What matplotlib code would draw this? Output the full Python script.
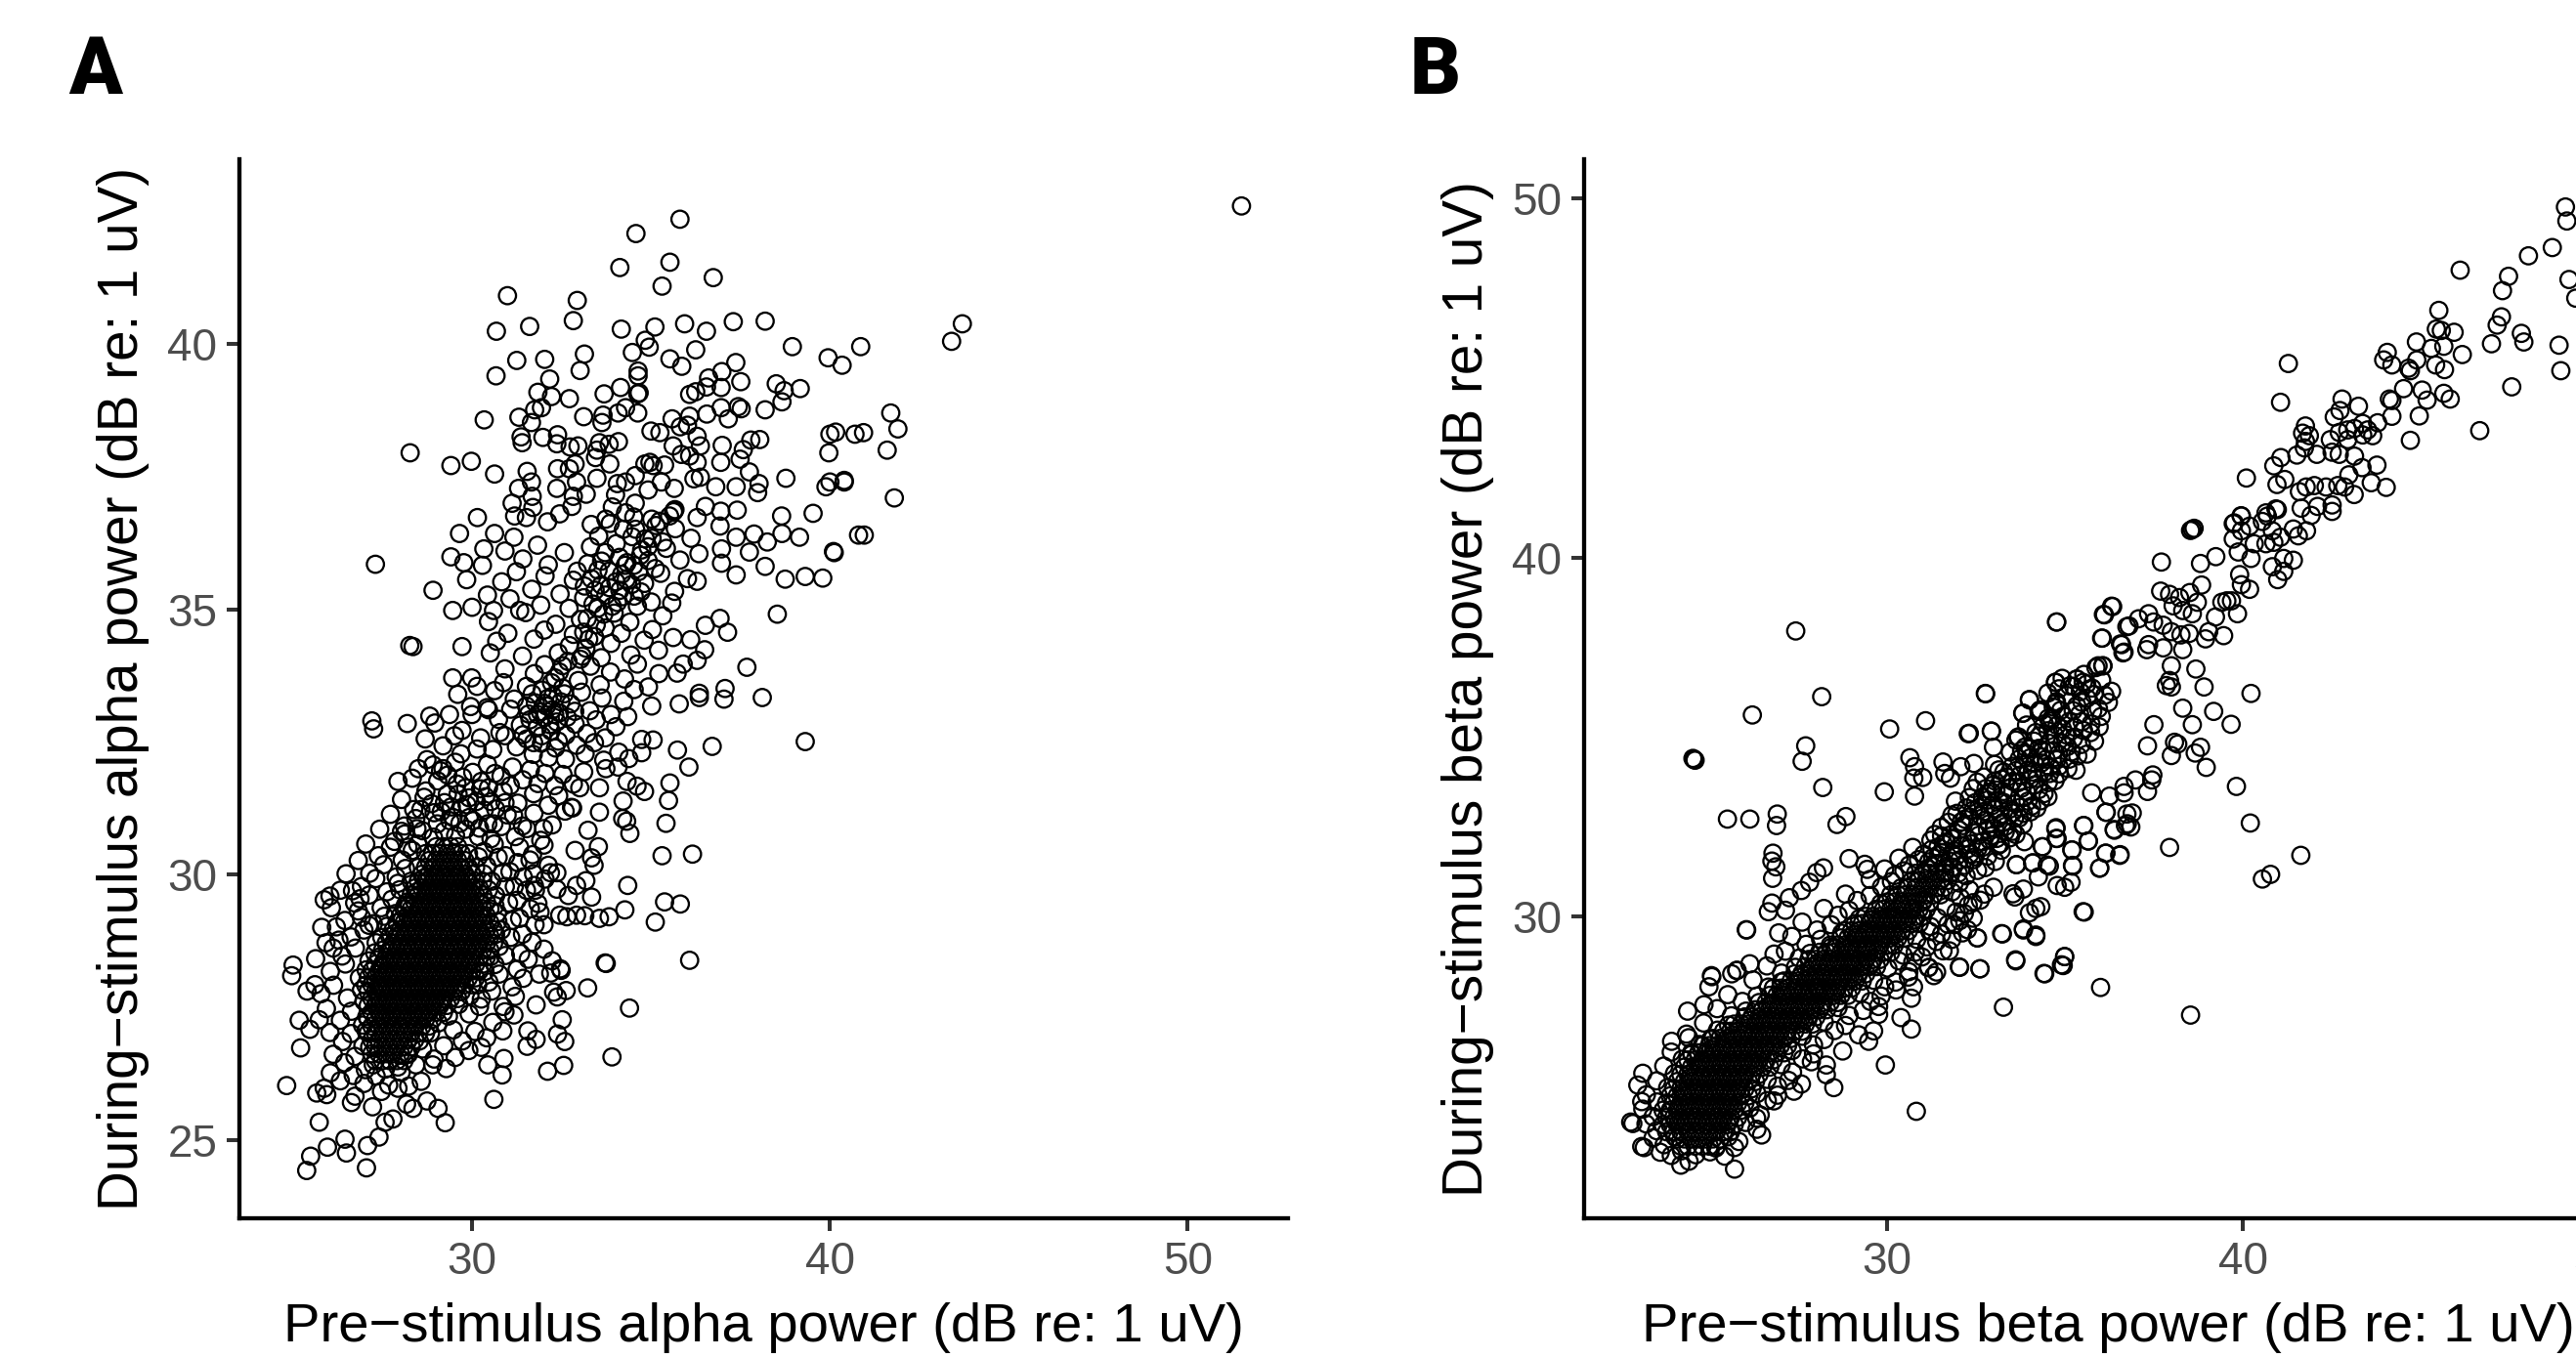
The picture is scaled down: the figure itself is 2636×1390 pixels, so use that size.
import numpy as np
import matplotlib
matplotlib.use("Agg")
import matplotlib.pyplot as plt

plt.rcParams['font.family'] = ['Liberation Sans', 'DejaVu Sans']

# values, (pre, during) in dB
alpha_sparse = [
    (51.5,42.6),(43.7,40.38),(43.4,40.05),(35.81,42.35),(34.58,42.08),(34.13,41.44),(35.53,41.54),(35.31,41.09),(36.74,41.25),
    (30.99,40.91),(32.94,40.82),(32.83,40.44),(30.68,40.24),(31.61,40.33),(34.17,40.28),(35.11,40.32),(35.94,40.38),(36.55,40.24),
    (37.30,40.42),(38.19,40.43),(38.95,39.95),(40.86,39.95),(39.95,39.74),(40.34,39.6),(34.84,40.07),(34.95,39.94),(34.48,39.84),
    (36.25,39.89),(35.53,39.72),(35.86,39.58),(33.14,39.81),(33.02,39.5),(32.03,39.71),(31.25,39.69),(30.67,39.4),(32.17,39.34),
    (31.84,39.09),(32.22,39.01),(32.72,38.97),(33.69,39.06),(34.15,39.18),(34.64,39.49),(34.64,39.4),(34.63,39.06),(34.67,39.08),
    (37.37,39.65),(36.98,39.48),(36.61,39.36),(37.51,39.29),(36.96,39.18),(36.55,39.19),(36.25,39.1),(36.08,39.05),(38.5,39.25),
    (38.72,39.12),(39.17,39.16),(38.66,38.91),(38.19,38.76),(30.34,38.57),(31.31,38.62),(31.66,38.52),(31.75,38.76),(31.94,38.8),
    (33.12,38.63),(33.66,38.66),(33.63,38.52),(34.08,38.7),(34.29,38.8),(34.63,38.7),(35.59,38.59),(36.08,38.64),(36.56,38.68),
    (36.96,38.8),(37.16,38.59),(37.44,38.82),(37.52,38.78),(28.27,37.95),(29.41,37.71),(29.98,37.79),(30.63,37.55),(31.37,38.25),
    (31.4,38.14),(31.98,38.24),(32.39,38.29),(32.37,38.12),(32.96,38.08),(32.74,38.06),(33.56,38.14),(33.83,38.11),(34.09,38.16),
    (33.49,38.0),(33.45,37.86),(33.85,37.74),(35.0,38.36),(35.25,38.33),(35.82,38.44),(36.02,38.47),(36.29,38.26),(35.62,38.08),
    (35.85,37.92),(36.38,38.08),(36.08,37.89),(36.29,37.77),(36.99,38.09),(37.79,38.19),(38.04,38.2),(37.58,38.01),(37.49,37.83),
    (36.95,37.77),(40.16,38.34),(40.94,38.33),(39.97,37.95),(38.77,37.47),(40.4,37.43),(39.89,37.31),(39.53,36.81),(38.65,36.76),
    (38.66,36.43),(39.15,36.36),(40.96,36.4),(40.1,36.09),(40.12,36.07),(31.54,37.6),(31.66,37.4),(31.3,37.28),(32.39,37.65),
    (32.88,37.74),(32.72,37.65),(32.92,37.4),(33.49,37.47),(32.37,37.28),(33.19,37.17),(32.83,37.13),(32.79,36.94),(31.12,37.0),
    (31.68,37.13),(31.7,36.92),(31.19,36.76),(31.52,36.73),(32.45,36.8),(32.11,36.65),(30.15,36.73),(29.65,36.43),(30.63,36.43),
    (31.17,36.36),(30.33,36.14),(30.92,36.1),(29.41,35.99),(29.77,35.88),(30.29,35.83),(29.85,35.56),(28.91,35.36),(34.97,37.77),
    (34.83,37.74),(35.06,37.71),(35.38,37.72),(34.29,37.4),(34.06,37.37),(34.01,37.16),(34.56,37.52),(34.92,37.25),(35.29,37.4),
    (35.65,37.28),(36.2,37.46),(36.38,37.49),(36.81,37.31),(37.38,37.31),(37.75,37.59),(38.02,37.37),(37.98,37.2),(37.41,36.87),
    (36.95,36.85),(36.52,36.94),(36.29,36.73),(36.93,36.57),(35.65,36.86),(35.67,36.88),(35.63,36.84),(35.02,36.7),(34.56,37.0),
    (34.29,36.82),(33.74,36.7),(33.33,36.6),(37.38,36.36),(37.88,36.42),(38.25,36.27),(37.75,36.08),(38.19,35.81),(38.75,35.57),
    (39.31,35.62),(39.8,35.59),(37.38,35.65),(36.97,36.14),(36.97,35.87),(36.34,36.05),(36.29,35.53),(41.9,38.4),(41.7,38.7),
    (41.6,38.0),(41.8,37.1),(40.8,36.4),(40.0,38.3),(40.7,38.3),(40.0,37.4),(40.4,37.4),
    (38.53,34.91),(37.14,34.57),(36.93,34.83),(36.52,34.7),(36.11,34.43),(36.5,34.24),(36.29,34.04),(35.9,33.97),(35.73,33.8),
    (37.68,33.91),(37.07,33.51),(37.04,33.31),(36.35,33.42),(36.35,33.34),(35.79,33.22),(38.11,33.34),(39.31,32.51),(36.71,32.42),
    (35.74,32.35),(36.06,32.03),(35.53,31.73),(35.49,31.4),(35.42,30.97),(35.31,30.36),(36.16,30.39),(34.35,29.8),(35.38,29.49),
    (35.82,29.45),(34.27,29.34),(35.12,29.11),(33.72,28.34),(36.08,28.39),(33.83,29.21),(33.56,29.18),(33.15,29.23),(32.92,29.24),
    (32.65,29.21),(32.45,29.24),(33.34,29.58),(33.18,29.89),(32.92,29.8),(32.69,29.61),(33.41,30.18),(33.34,30.32),(33.53,30.53),
    (32.88,30.46),(34.41,30.78),(34.32,31.01),(34.21,31.06),(34.22,31.39),(34.82,31.57),(34.61,31.67),(34.33,31.76),(35.06,32.54),
    (34.74,32.3),(34.74,32.55),(34.38,32.19),(34.1,32.31),(33.74,32.0),(33.56,31.18),(33.24,30.84),(33.56,31.64),(33.01,31.64),
    (32.6,31.2),(32.78,31.27),(32.0,30.87),(32.01,30.56),(31.69,30.38),(32.19,30.04),(32.37,30.04),(31.74,29.8),(32.37,29.73),
    (31.9,29.3),(32.01,29.06),(32.24,28.38),(32.47,28.23),(32.01,28.6),(28.26,34.32),(29.72,34.3),(29.46,34.98),(30.0,35.04),
    (30.46,34.77),(30.6,34.98),(30.43,35.27),(31.06,35.2),(31.5,34.94),(30.69,34.4),(30.51,34.18),(31.0,34.55),(29.46,33.71),
    (29.6,33.4),(29.99,33.71),(30.14,33.55),(29.96,33.17),(30.46,33.11),(30.0,33.02),(28.19,32.85),(28.82,32.99),(29.37,33.02),
    (28.69,32.56),(28.96,32.86),(29.51,32.62),(29.69,32.28),(29.19,32.43),(30.14,32.37),(30.78,32.68),(28.5,32.0),(27.93,31.76),
    (28.91,32.07),(29.19,32.0),(29.82,31.64),(30.46,31.64),
    (25.0,28.3),(24.96,28.1),(25.39,27.81),(25.61,27.93),(25.17,27.26),(25.47,27.09),(25.73,27.27),(25.21,26.74),(24.82,26.03),
    (25.73,25.34),(25.38,24.43),(25.49,24.7),(25.96,24.87),(26.45,25.02),(26.49,24.76),(27.08,24.9),(27.05,24.48),(27.4,25.06),
    (27.57,25.34),(27.79,25.4),(27.22,25.63),(28.17,25.68),(28.35,25.6),(28.74,25.74),(29.05,25.6),(29.25,25.33),(30.61,25.77),
    (26.63,25.71),(26.73,25.83),(25.66,25.89),(25.94,25.86),(25.87,25.98),(25.87,29.53),(26.03,29.6),(26.66,29.7),(26.87,29.55),
    (25.8,29.01),(26.12,28.62),(26.28,28.77),(26.91,29.2),(27.12,29.05),(27.2,32.9),(27.25,32.75),(27.3,35.85),(28.35,34.3),
    (33.75,28.33),(34.4,27.49),(33.91,26.57),(33.23,27.87),(32.56,26.41),(32.11,26.3),(32.59,26.86),(32.39,27.0),(32.52,27.27),
    (32.49,28.2),(32.2,28.15),(32.63,27.82),(32.28,27.79),(32.38,27.7),(30.89,26.54),(30.44,26.42),(30.84,26.23),(31.79,27.55),
    (31.79,26.9),(31.54,26.77),(31.56,27.06),(30.86,27.06),(31.17,27.36),(30.26,26.75),(29.91,26.69),(29.28,26.35),(28.9,26.42),
    (28.58,26.11),(28.23,26.02),(27.93,25.98),(27.47,25.92),
]
# the crowded part of the cloud, estimated by eye where single rings can't be told apart
alpha_mid = [
    (31.42,35.95),(31.83,36.21),(32.13,35.84),(32.58,36.07),(32.94,35.72),(33.31,36.18),(33.62,35.91),(34.03,36.24),(34.28,35.83),(34.71,36.02),
    (35.12,35.77),(35.43,36.15),(35.81,35.93),(30.83,35.52),(31.24,35.71),(31.67,35.38),(32.04,35.63),(32.46,35.29),(32.83,35.55),(33.12,35.22),
    (33.52,35.74),(33.84,35.41),(34.18,35.66),(34.53,35.25),(34.82,35.49),(35.27,35.68),(35.66,35.34),(36.02,35.58),(31.33,34.98),(31.92,35.08),
    (32.34,34.72),(32.71,35.02),(33.03,34.81),(33.38,35.1),(33.72,34.65),(33.97,34.93),(34.41,34.76),(34.62,35.06),(35.04,34.62),(35.33,34.88),
    (35.58,35.12),(31.73,34.44),(32.02,34.61),(32.41,34.18),(32.83,34.53),(33.18,34.27),(33.42,34.49),(33.61,34.09),(33.88,34.36),(34.17,34.55),
    (34.44,34.14),(34.81,34.42),(35.21,34.23),(35.62,34.47),(30.92,33.88),(31.41,34.12),(31.74,33.79),(32.03,33.96),(32.32,33.71),(32.68,34.02),
    (32.97,33.66),(33.31,33.93),(33.58,33.58),(33.87,33.82),(34.26,33.69),(34.62,33.97),(34.93,33.54),(35.22,33.79),(30.63,33.47),(30.88,33.62),
    (31.18,33.31),(31.52,33.55),(31.77,33.24),(31.96,33.48),(32.08,33.18),(32.26,33.37),(32.44,33.05),(32.53,33.52),(32.76,33.22),(33.06,33.44),
    (33.29,33.09),(33.63,33.33),(33.88,33.02),(34.24,33.27),(34.53,33.49),(35.02,33.18),(30.42,33.15),(30.74,32.93),(31.08,33.12),(31.35,32.82),
    (31.58,33.03),(31.82,32.77),(32.02,32.96),(32.21,32.71),(32.37,32.88),(32.62,32.63),(32.88,32.84),(33.21,32.66),(33.47,32.92),(33.72,32.58),
    (34.02,32.79),(34.35,32.98),(29.72,32.72),(30.24,32.58),(30.58,32.36),(30.92,32.62),(31.24,32.41),(31.53,32.56),(31.71,32.27),(31.94,32.48),
    (32.14,32.21),(32.33,32.39),(32.61,32.18),(32.92,32.44),(33.16,32.28),(33.42,32.49),(33.68,32.16),(34.08,32.03),(28.74,32.17),(29.12,31.96),
    (29.53,32.12),(30.02,31.93),(30.43,32.08),(30.81,31.86),(31.13,32.03),(31.42,31.79),(31.63,31.98),(31.84,31.72),(32.04,31.91),(32.31,31.68),
    (32.54,31.89),(32.83,31.71),(33.12,31.94),(28.33,31.82),(28.71,31.58),(29.04,31.77),(29.31,31.52),(29.58,31.71),(29.92,31.45),(30.24,31.62),
    (30.53,31.38),(30.87,31.57),(31.28,31.35),(31.72,31.53),(32.13,31.31),(32.42,31.49),(32.81,31.26),(28.03,31.42),(28.37,31.23),(28.66,31.46),
    (28.94,31.17),(29.23,31.36),(29.47,31.08),(29.72,31.27),(30.03,31.02),(30.34,31.22),(30.61,30.96),(30.98,31.13),(31.41,30.92),(31.73,31.16),
    (32.24,30.94),(27.72,31.14),(28.11,30.92),(28.43,31.06),(28.62,30.83),(30.21,30.88),(30.53,30.68),(30.82,30.91),(31.21,30.72),(31.53,30.87),
    (31.92,30.65),(27.42,30.86),(27.83,30.63),(28.12,30.77),(28.48,30.58),(30.33,30.44),(30.62,30.58),(30.94,30.36),(31.33,30.52),(31.62,30.28),
    (27.03,30.58),(27.38,30.36),(27.72,30.52),(28.05,30.28),(28.33,30.46),(30.41,30.17),(30.73,30.33),(31.06,30.06),(31.28,30.23),(31.72,30.02),
    (32.13,30.18),(26.82,30.27),(27.14,30.03),(27.53,30.19),(27.88,29.96),(28.14,30.12),(30.55,29.88),(30.86,30.04),(31.18,29.78),(31.43,29.96),
    (31.77,29.71),(32.04,29.92),(26.48,30.02),(26.91,29.78),(27.31,29.93),(27.62,29.68),(27.93,29.84),(30.66,29.61),(30.93,29.78),(31.26,29.52),
    (31.52,29.71),(31.84,29.46),(26.32,29.71),(26.72,29.47),(27.13,29.62),(27.46,29.38),(27.76,29.54),(30.71,29.28),(31.02,29.47),(31.33,29.18),
    (31.63,29.36),(26.07,29.38),(26.45,29.14),(26.82,29.32),(27.24,29.08),(27.55,29.22),(30.82,28.96),(31.12,29.14),(31.41,28.88),(31.76,29.06),
    (26.21,29.02),(26.62,28.83),(26.98,28.96),(27.32,28.72),(30.76,28.65),(31.08,28.82),(31.36,28.52),(31.68,28.73),(25.92,28.72),(26.37,28.47),
    (26.74,28.62),(27.12,28.38),(30.64,28.31),(30.93,28.48),(31.26,28.22),(31.57,28.41),(31.88,28.13),(25.63,28.42),(26.04,28.18),(26.46,28.32),
    (26.85,28.06),(30.47,27.98),(30.76,28.13),(31.12,27.89),(31.43,28.05),(25.78,27.76),(26.13,27.92),(26.52,27.68),(26.91,27.83),(30.26,27.66),
    (30.55,27.81),(30.87,27.52),(31.21,27.71),(25.93,27.48),(26.32,27.26),(26.63,27.43),(26.94,27.17),(29.92,27.38),(30.21,27.52),(30.58,27.22),
    (30.92,27.42),(26.03,27.03),(26.38,26.86),(26.62,27.01),(26.95,26.78),(29.48,27.08),(29.73,26.87),(30.08,27.05),(30.41,26.93),(26.12,26.62),
    (26.44,26.46),(26.73,26.58),(27.02,26.33),(28.62,26.72),(28.94,26.53),(29.21,26.78),(29.53,26.56),(26.04,26.27),(26.32,26.12),(26.68,26.22),
    (26.98,26.07),(27.32,26.21),(27.67,26.04),(28.02,26.28),(28.43,26.42),(33.92,36.93),(34.23,36.51),(34.52,36.74),(34.84,36.33),(35.14,36.58),
    (33.54,36.38),(33.86,36.62),(35.33,36.27),(35.68,36.52),(36.12,36.34),(34.12,35.98),(34.47,36.37),(34.92,36.18),(32.22,33.62),(32.44,33.82),
    (31.83,33.02),(32.03,33.23),(31.62,32.92),(32.24,33.11),(33.22,34.83),(33.51,35.02),(33.74,35.27),(34.02,35.52),(34.33,35.88),(28.92,30.71),
    (29.22,30.82),(29.54,30.74),(29.83,30.86),(33.44,35.36),(33.12,34.57),(34.06,35.13),(34.65,35.71),(34.92,35.92),
    # denser ridge and the shoulder above the black core
    (31.52,33.18),(31.68,33.41),(31.91,33.07),(32.13,33.33),(32.31,33.02),(32.48,33.26),(32.66,32.97),(32.17,32.83),(31.95,32.62),(32.41,32.52),
    (31.43,32.64),(31.72,32.49),(32.58,33.41),(32.87,33.08),(33.03,34.06),(33.26,34.44),(33.47,34.71),(33.68,34.91),(33.92,35.06),(34.13,35.36),
    (34.31,35.57),(34.52,35.83),(34.74,36.12),(35.03,36.34),(35.24,36.66),(33.33,35.58),(33.61,35.46),(33.83,35.72),(34.21,35.24),(34.46,35.47),
    (34.72,35.33),(35.01,35.14),(33.23,35.86),(33.72,36.07),(34.57,36.51),(35.52,36.76),(33.14,35.44),(32.72,34.32),(32.53,33.94),(33.08,34.12),
    (29.03,30.96),(29.38,31.02),(29.66,30.97),(29.92,31.08),(30.18,30.72),(30.44,30.96),(28.57,31.23),(28.87,31.34),(29.14,31.19),(29.42,31.28),
    (29.61,31.52),(29.86,31.32),(30.12,31.38),(30.38,31.47),(30.66,31.24),(30.92,31.36),(31.16,31.12),(29.32,31.88),(29.74,31.84),(30.26,31.76),
    (30.64,31.91),(31.07,31.68),(28.21,30.52),(28.03,30.82),(28.46,30.87),(27.98,29.72),(28.13,29.42),(27.86,29.27),(27.62,29.03),(27.48,28.82),
    (27.28,28.53),(27.04,28.21),(27.03,27.92),(26.98,27.62),(27.06,27.33),(27.04,27.06),(27.14,26.76),(27.24,26.42),(27.58,26.34),(27.93,26.38),
    (28.22,26.62),(28.53,26.87),(28.84,27.02),(29.06,27.21),(29.34,27.34),(29.63,27.56),(29.94,27.72),(30.16,27.93),(30.36,28.18),(30.52,28.46),
    (30.66,28.88),(30.72,29.12),(30.64,29.42),(30.46,29.72),(30.32,30.02),(30.18,30.34),
]
alpha_core_rows = [
    (26.5,[27.3,27.5,27.7,27.9,28.1]),
    (26.63,[27.2,27.4,27.6,27.8,28.0,28.2]),
    (26.76,[27.3,27.5,27.7,27.9,28.1,28.3]),
    (26.89,[27.2,27.4,27.6,27.8,28.0,28.2,28.4]),
    (27.02,[27.1,27.3,27.5,27.7,27.9,28.1,28.3,28.5,28.7]),
    (27.15,[27.2,27.4,27.6,27.8,28.0,28.2,28.4,28.6,28.8]),
    (27.28,[27.1,27.3,27.5,27.7,27.9,28.1,28.3,28.5,28.7,28.9]),
    (27.41,[27.2,27.4,27.6,27.8,28.0,28.2,28.4,28.6,28.8,29.0,29.2]),
    (27.54,[27.1,27.3,27.5,27.7,27.9,28.1,28.3,28.5,28.7,28.9,29.1,29.3]),
    (27.67,[27.2,27.4,27.6,27.8,28.0,28.2,28.4,28.6,28.8,29.0,29.2,29.4,29.6]),
    (27.8,[27.1,27.3,27.5,27.7,27.9,28.1,28.3,28.5,28.7,28.9,29.1,29.3,29.5,29.7]),
    (27.93,[27.2,27.4,27.6,27.8,28.0,28.2,28.4,28.6,28.8,29.0,29.2,29.4,29.6,29.8,30.0]),
    (28.06,[27.1,27.3,27.5,27.7,27.9,28.1,28.3,28.5,28.7,28.9,29.1,29.3,29.5,29.7,29.9,30.1]),
    (28.19,[27.2,27.4,27.6,27.8,28.0,28.2,28.4,28.6,28.8,29.0,29.2,29.4,29.6,29.8,30.0,30.2]),
    (28.32,[27.3,27.5,27.7,27.9,28.1,28.3,28.5,28.7,28.9,29.1,29.3,29.5,29.7,29.9,30.1,30.3]),
    (28.45,[27.4,27.6,27.8,28.0,28.2,28.4,28.6,28.8,29.0,29.2,29.4,29.6,29.8,30.0,30.2,30.4]),
    (28.58,[27.5,27.7,27.9,28.1,28.3,28.5,28.7,28.9,29.1,29.3,29.5,29.7,29.9,30.1,30.3,30.5]),
    (28.71,[27.6,27.8,28.0,28.2,28.4,28.6,28.8,29.0,29.2,29.4,29.6,29.8,30.0,30.2,30.4,30.6]),
    (28.84,[27.7,27.9,28.1,28.3,28.5,28.7,28.9,29.1,29.3,29.5,29.7,29.9,30.1,30.3,30.5]),
    (28.97,[27.8,28.0,28.2,28.4,28.6,28.8,29.0,29.2,29.4,29.6,29.8,30.0,30.2,30.4,30.6]),
    (29.1,[27.9,28.1,28.3,28.5,28.7,28.9,29.1,29.3,29.5,29.7,29.9,30.1,30.3,30.5]),
    (29.23,[28.0,28.2,28.4,28.6,28.8,29.0,29.2,29.4,29.6,29.8,30.0,30.2,30.4]),
    (29.36,[28.1,28.3,28.5,28.7,28.9,29.1,29.3,29.5,29.7,29.9,30.1,30.3,30.5]),
    (29.49,[28.2,28.4,28.6,28.8,29.0,29.2,29.4,29.6,29.8,30.0,30.2,30.4]),
    (29.62,[28.3,28.5,28.7,28.9,29.1,29.3,29.5,29.7,29.9,30.1,30.3]),
    (29.75,[28.4,28.6,28.8,29.0,29.2,29.4,29.6,29.8,30.0,30.2]),
    (29.88,[28.3,28.5,28.7,28.9,29.1,29.3,29.5,29.7,29.9,30.1,30.3]),
    (30.01,[28.6,28.8,29.0,29.2,29.4,29.6,29.8,30.0]),
    (30.14,[28.5,28.7,28.9,29.1,29.3,29.5,29.7,29.9,30.1]),
    (30.27,[28.8,29.0,29.2,29.4,29.6,29.8]),
    (30.4,[28.7,28.9,29.1,29.3,29.5,29.7,29.9]),
    (30.53,[29.0,29.2,29.4,29.6]),
    # second, offset pass over the inner part so it closes up to solid black
    (27.35,[27.45,27.75,28.05,28.35,28.65]),
    (27.6,[27.35,27.65,27.95,28.25,28.55,28.85,29.15]),
    (27.86,[27.45,27.75,28.05,28.35,28.65,28.95,29.25,29.55]),
    (28.12,[27.35,27.65,27.95,28.25,28.55,28.85,29.15,29.45,29.75]),
    (28.38,[27.55,27.85,28.15,28.45,28.75,29.05,29.35,29.65,29.95]),
    (28.64,[27.75,28.05,28.35,28.65,28.95,29.25,29.55,29.85,30.15]),
    (28.9,[27.85,28.15,28.45,28.75,29.05,29.35,29.65,29.95,30.25]),
    (29.16,[28.05,28.35,28.65,28.95,29.25,29.55,29.85,30.15]),
    (29.42,[28.25,28.55,28.85,29.15,29.45,29.75,30.05]),
    (29.68,[28.45,28.75,29.05,29.35,29.65,29.95]),
    (29.94,[28.65,28.95,29.25,29.55,29.85]),
]

beta_sparse = [
    (49.07,49.76),(49.11,49.37),(48.70,48.63),(48.03,48.40),(46.11,48.0),(47.47,47.83),(47.30,47.43),(49.17,47.74),(49.36,47.22),
    (45.51,46.88),(47.27,46.70),(47.15,46.47),(47.83,46.24),(47.9,46.0),(46.99,45.95),(48.89,45.91),(48.94,45.2),(47.56,44.75),
    (46.66,43.53),(45.44,46.36),(45.58,46.32),(45.94,46.27),(45.65,45.88),(45.3,45.82),(44.88,46.0),(46.17,45.65),(44.06,45.71),
    (43.96,45.5),(44.19,45.36),(44.89,45.5),(44.66,45.27),(44.71,45.2),(45.42,45.36),(45.67,45.23),(44.52,44.7),(45.04,44.66),
    (45.18,44.38),(45.65,44.57),(45.83,44.41),(44.12,44.41),(44.19,44.37),(44.19,43.93),(44.96,43.94),(44.71,43.26),(41.28,45.4),
    (41.06,44.32),(42.79,44.41),(43.25,44.21),(42.73,44.09),(42.57,43.91),(41.76,43.66),(41.68,43.46),(41.87,43.39),(41.76,43.23),
    (41.73,43.05),(43.79,43.75),(43.37,43.73),(43.14,43.59),(43.51,43.55),(42.95,43.55),(42.71,43.48),(43.37,43.41),(43.65,43.39),
    (42.46,43.28),(42.95,43.28),(41.52,42.85),(42.08,42.87),(42.51,42.93),(42.71,42.87),(43.14,42.82),(41.07,42.78),(40.87,42.55),
    (43.77,42.57),(43.35,42.5),(42.98,42.3),(41.18,42.17),(40.96,42.03),(40.1,42.21),(43.61,42.08),(44.03,41.95),(43.13,41.75),
    (42.86,41.96),(42.67,42.0),(42.34,41.96),(42.01,42.0),(41.78,41.96),(41.59,41.83),(41.64,41.37),(42.1,41.42),(42.51,41.46),
    (42.51,41.28),(41.92,41.17),(40.93,41.35),(40.65,41.24),(39.95,41.16),(39.76,40.96),(38.58,40.78),(38.63,40.81),(38.53,40.75),
    (39.96,41.15),(39.73,40.94),(39.73,40.51),(39.96,40.74),(40.19,40.87),(40.69,41.15),(40.97,41.33),(40.55,41.0),(40.83,40.74),
    (41.42,40.79),(41.56,40.6),(41.79,40.74),(41.06,40.56),(39.87,40.15),(40.23,39.97),(40.32,40.38),(40.65,40.38),(40.87,40.42),
    (41.42,39.92),(40.83,39.74),(41.15,39.61),(40.98,39.38),(41.15,39.97),(39.91,39.52),(39.96,39.24),(40.19,39.11),(39.41,38.75),
    (39.55,38.79),(39.68,38.79),(39.85,38.43),(39.23,38.34),(39.04,37.93),(39.46,37.82),(38.95,37.73),(38.49,37.88),(38.26,37.84),
    (37.99,37.93),(37.76,38.11),(37.49,38.2),(37.35,38.43),(37.07,38.29),(36.8,38.09),(37.71,39.87),(39.24,40.02),(38.81,39.83),
    (38.84,39.23),(37.69,39.06),(37.94,38.97),(38.22,38.88),(38.51,39.02),(38.72,38.75),(38.04,38.65),(38.31,38.52),(38.58,38.43),
    (36.34,38.63),(36.11,38.4),(36.05,37.75),(36.59,37.57),(36.66,37.36),(37.35,37.57),(37.3,37.43),(37.76,37.48),(38.31,37.43),
    (37.99,36.98),(37.94,36.57),(37.99,36.39),(37.85,36.43),(34.77,38.2),(38.68,36.89),(38.91,36.39),(40.23,36.21),(38.31,35.8),
    (39.18,35.71),(39.67,35.35),(38.58,35.34),(37.5,35.34),(38.08,34.85),(38.17,34.8),(38.81,34.71),(38.66,34.55),(37.99,34.48),
    (38.97,34.15),(37.32,34.75),(39.82,33.62),(40.21,32.6),(37.94,31.92),(41.63,31.70),(40.78,31.17),(40.55,31.04),(37.47,33.94),
    (37.44,33.8),(37.32,33.48),(36.98,33.8),(36.66,33.62),(36.66,33.44),(36.25,33.35),(35.75,33.44),(36.16,32.9),(36.89,32.88),
    (36.75,32.58),(36.85,32.49),(36.39,32.4),(35.52,32.53),(35.65,32.1),(35.2,31.85),(34.74,32.44),(34.78,32.17),(36.14,31.76),
    (36.55,31.72),(35.98,31.35),(35.22,31.4),(34.37,31.94),(34.56,31.4),(34.1,31.49),(33.64,31.44),(32.77,36.2),(34.0,36.04),
    (33.82,35.66),(34.3,35.75),(32.31,35.1),(32.93,35.16),(33.69,35.0),(34.74,36.52),(35.33,36.61),(35.93,36.98),(36.07,36.98),
    (34.83,36.34),(27.43,37.95),(28.16,36.12),(26.21,35.61),(24.57,34.37),(24.6,34.35),(24.54,34.4),(27.71,34.75),(27.61,34.32),
    (28.19,33.59),(29.92,33.47),(30.07,35.22),(31.08,35.45),(32.76,36.21),(34.76,38.2),(36.08,38.41),(36.31,38.64),(36.03,37.75),
    (36.56,37.59),(36.63,37.34),(32.28,35.09),(32.93,35.16),(32.99,34.71),(30.64,34.42),(30.77,34.17),(31.0,33.87),(30.75,33.85),
    (30.77,33.35),(31.57,34.3),(31.62,33.98),(31.78,33.85),(32.07,34.17),(32.44,34.26),(25.51,32.71),(26.14,32.71),(26.91,32.85),
    (26.89,32.53),(28.84,32.78),(28.59,32.56),(26.79,31.76),(26.76,31.54),(26.87,31.38),(26.78,31.06),(26.76,30.37),(26.66,30.13),
    (27.14,30.17),(26.04,29.63),(27.25,30.52),(27.59,30.72),(27.82,30.95),(28.02,31.22),(28.21,31.35),(28.93,31.61),(29.37,31.45),
    (29.44,31.31),(26.95,29.54),(26.82,28.95),(26.14,28.68),(25.78,28.5),(25.07,28.32),(34.0,36.03),(33.81,35.66),(34.27,35.71),
    (33.68,34.98),(34.59,35.44),(34.73,36.52),(35.33,36.61),(35.51,36.52),(34.75,35.93),(35.87,36.93),(36.06,36.98),(36.74,38.07),
    (36.15,32.9),(36.74,32.85),(36.38,32.42),(36.7,32.53),(35.53,32.53),(34.75,32.47),(34.75,32.17),(35.66,32.1),(35.19,31.85),
    (35.21,31.42),(36.15,31.76),(36.54,31.7),(35.97,31.34),(34.36,31.94),(33.86,32.08),(34.09,31.49),(34.5,31.43),(33.63,31.44),
    (34.25,31.1),(34.78,30.86),(34.99,30.81),(35.17,30.95),(33.83,30.76),(33.54,30.63),(33.59,30.54),(35.51,30.13),(34.32,30.27),
    (34.18,30.22),(34.0,30.1),(33.83,29.65),(34.18,29.48),(33.22,29.52),(32.53,29.4),(32.62,30.45),(32.99,30.81),(32.42,29.95),
    (32.17,30.08),(31.89,29.77),(32.12,29.54),(32.26,29.63),(33.61,28.79),(32.61,28.54),(32.03,28.59),(34.41,28.41),(34.99,28.88),
    (34.9,28.65),(31.16,28.57),(31.39,28.45),(31.57,29.04),(31.75,29.04),(31.2,29.58),(31.39,29.3),(30.79,29.0),
    (38.53,27.25),(36.0,28.02),(33.27,27.47),(35.54,30.12),(30.82,24.57),(29.95,25.86),(26.47,23.91),(25.71,22.96),(25.71,23.56),
    (25.18,23.55),(26.33,24.38),(24.43,23.18),(24.2,23.07),(23.17,23.56),(23.1,23.59),(22.85,24.23),(22.79,24.27),(23.1,24.84),
    (22.99,25.3),(23.13,25.63),(23.94,26.52),(24.36,26.72),(24.39,27.36),(24.85,27.54),(25.06,28.35),(24.99,28.04),(25.63,28.4),
    (25.77,28.49),(26.05,29.62),(28.75,26.25),(28.5,25.23),(28.29,25.59),(28.29,25.86),(27.87,25.95),(27.59,25.33),(27.38,25.13),
    (26.82,24.86),(30.68,26.86),(30.39,27.18),(29.76,27.27),(29.76,27.49),(29.48,26.52),(29.2,26.7),(29.62,26.81),(30.74,28.04),
    (30.68,27.72),(30.25,27.95),(30.6,28.31),(31.31,28.35),(31.17,28.58),(32.04,28.58),(32.61,28.54),(33.62,28.76),(34.43,28.4),
    (34.95,28.63),(34.99,28.88),(33.24,29.51),(34.18,29.44),(33.83,29.62),(32.54,29.4),
]
beta_mid = [
    (34.92,36.63),(35.24,36.41),(35.53,36.74),(35.76,36.36),(36.03,36.58),(36.31,36.27),(34.52,36.22),(34.76,35.98),(35.04,36.16),(35.33,35.87),
    (35.62,36.08),(35.94,35.79),(36.22,35.96),(34.31,35.72),(34.63,35.51),(34.88,35.74),(35.12,35.43),(35.41,35.63),(35.73,35.36),(36.02,35.57),
    (33.92,35.33),(34.18,35.12),(34.42,35.36),(34.71,35.04),(34.93,35.22),(35.24,34.96),(35.52,35.18),(35.83,34.88),(33.62,34.91),(33.88,34.72),
    (34.13,34.88),(34.37,34.63),(34.56,34.82),(34.82,34.52),(35.07,34.73),(35.36,34.47),(33.46,34.58),(33.71,34.38),(33.93,34.53),(34.14,34.26),
    (34.34,34.44),(34.58,34.17),(34.77,34.36),(35.08,34.12),(33.02,34.23),(33.28,34.02),(33.52,34.18),(33.73,33.93),(33.96,34.07),(34.22,33.84),
    (34.43,34.02),(34.72,33.78),(32.72,33.88),(32.98,33.66),(33.23,33.82),(33.44,33.57),(33.67,33.72),(33.91,33.48),(34.13,33.66),(34.41,33.42),
    (32.42,33.56),(32.68,33.32),(32.93,33.47),(33.14,33.23),(33.36,33.38),(33.62,33.14),(33.83,33.31),(34.06,33.07),(34.32,33.22),(31.92,33.21),
    (32.23,33.02),(32.48,33.17),(32.72,32.92),(32.94,33.08),(33.18,32.83),(33.43,32.98),(33.71,32.74),(34.03,32.91),(31.82,32.82),(32.08,32.63),
    (32.32,32.77),(32.54,32.53),(32.76,32.68),(33.02,32.46),(33.26,32.62),(33.53,32.37),(33.82,32.56),(31.52,32.48),(31.78,32.27),(32.02,32.41),
    (32.24,32.18),(32.46,32.33),(32.68,32.08),(32.92,32.24),(33.18,32.02),(33.46,32.19),(31.23,32.12),(31.43,31.93),(31.66,32.06),(31.88,31.83),
    (32.07,31.98),(32.33,31.74),(32.56,31.91),(32.83,31.68),(33.21,31.84),(30.72,31.92),(31.03,31.73),(31.28,31.63),(31.52,31.78),(31.76,31.54),
    (31.94,31.67),(32.18,31.42),(32.43,31.58),(32.76,31.36),(33.04,31.53),(30.33,31.62),(30.62,31.43),(30.88,31.58),(31.12,31.33),(31.37,31.47),
    (31.62,31.21),(31.86,31.37),(32.22,31.13),(32.54,31.28),(29.93,31.32),(30.21,31.14),(30.47,31.27),(32.03,30.93),(32.32,30.74),(32.73,30.62),
    (29.52,31.03),(29.84,30.82),(30.12,30.97),(31.82,30.68),(32.06,30.52),(32.41,30.38),(28.83,30.62),(29.16,30.44),(29.52,30.58),(29.82,30.36),
    (31.66,30.27),(31.94,30.12),(32.28,30.31),(28.22,30.22),(28.62,30.03),(28.93,30.17),(29.22,29.94),(31.42,29.96),(31.71,29.78),(32.04,29.88),
    (27.61,29.84),(28.03,29.62),(28.42,29.77),(28.72,29.53),(31.22,29.72),(31.53,29.51),(31.82,29.36),(27.32,29.44),(27.72,29.22),(28.13,29.36),
    (28.43,29.14),(30.83,29.36),(31.12,29.15),(27.14,29.03),(27.53,28.84),(27.84,28.97),(30.45,28.92),(30.72,28.73),(30.98,28.87),(26.62,28.62),
    (27.03,28.42),(27.42,28.58),(30.02,28.56),(30.33,28.76),(30.61,28.46),(26.23,28.23),(26.66,28.03),(27.02,28.17),(29.62,28.22),(29.93,28.04),
    (30.24,28.17),(25.52,27.82),(25.93,27.63),(26.34,27.78),(29.24,27.86),(29.53,27.63),(29.83,27.78),(25.22,27.43),(25.62,27.23),(26.03,27.36),
    (28.62,27.46),(28.93,27.24),(29.33,27.38),(24.84,27.03),(25.23,26.83),(25.54,26.97),(28.23,27.06),(28.52,26.82),(28.83,26.96),(24.42,26.62),
    (24.73,26.43),(25.04,26.57),(27.62,26.66),(27.93,26.42),(28.23,26.57),(23.93,26.22),(24.24,26.02),(24.51,26.16),(27.33,26.26),(27.62,26.03),
    (27.93,26.17),(23.72,25.83),(24.02,25.62),(27.02,25.87),(27.34,25.66),(23.52,25.42),(23.83,25.23),(26.63,25.46),(26.92,25.27),(27.23,25.43),
    (23.23,25.03),(23.53,24.83),(26.34,25.06),(26.63,24.87),(26.92,25.02),(23.13,24.63),(23.42,24.42),(26.14,24.66),(26.43,24.47),(23.22,24.22),
    (23.52,24.03),(26.02,24.26),(26.34,24.07),(23.42,23.83),(23.73,23.64),(24.03,23.86),(25.53,23.86),(25.83,23.73),(23.62,23.43),(23.93,23.34),
    (24.22,23.47),(24.62,23.36),(25.02,23.44),(25.43,23.32),(31.53,32.24),(31.26,31.87),(33.06,33.52),(34.02,34.67),(34.53,35.52),(32.82,33.43),
    (30.42,30.32),(30.73,30.22),(31.03,30.47),(29.02,28.63),(29.42,29.12),(28.02,28.02),
    # the band between the black core and the sparse tail
    (31.17,31.52),(31.44,31.71),(31.63,31.48),(31.82,31.76),(32.03,31.57),(32.26,31.88),(32.47,31.66),(32.68,31.92),(32.88,32.13),(33.11,31.97),
    (31.34,32.28),(31.58,32.02),(31.83,32.16),(32.13,32.53),(32.36,32.02),(32.58,32.26),(32.82,32.42),(33.08,32.17),(33.32,32.36),(33.62,32.28),
    (31.72,32.62),(31.96,32.87),(32.18,32.71),(32.42,32.96),(32.63,32.81),(32.87,32.58),(33.11,32.72),(33.33,32.51),(33.58,32.74),(33.83,32.87),
    (32.31,33.31),(32.57,33.03),(32.82,33.24),(33.04,32.98),(33.27,33.18),(33.52,32.88),(33.74,33.04),(33.96,33.21),(34.21,33.02),(34.52,33.33),
    (32.53,33.74),(32.78,33.56),(33.03,33.77),(33.27,33.48),(33.53,33.76),(33.78,33.57),(34.02,33.82),(34.26,33.53),(34.53,33.73),(34.83,33.97),
    (33.14,34.08),(33.38,33.88),(33.62,34.06),(33.84,34.23),(34.08,34.02),(34.33,34.27),(34.57,33.98),(34.83,34.18),(35.12,34.38),(35.31,34.07),
    (33.78,34.62),(34.03,34.42),(34.26,34.68),(34.47,34.38),(34.68,34.62),(34.92,34.83),(35.18,34.58),(35.46,34.79),(35.62,34.52),(34.28,35.03),
    (34.52,35.17),(34.78,35.32),(35.02,35.06),(35.27,35.27),(35.48,35.42),(35.72,35.12),(35.96,35.28),(34.67,35.83),(34.96,35.58),(35.23,35.73),
    (35.48,35.96),(35.78,35.72),(36.12,36.16),(35.13,36.42),(35.43,36.26),(35.82,36.18),(35.61,36.47),
]
beta_core_rows = [
    (23.6,[24.2,24.4,24.6,24.8,25.0,25.2]),
    (23.8,[24.1,24.3,24.5,24.7,24.9,25.1,25.3]),
    (24.0,[23.8,24.0,24.2,24.4,24.6,24.8,25.0,25.2,25.4,25.6]),
    (24.2,[23.7,23.9,24.1,24.3,24.5,24.7,24.9,25.1,25.3,25.5,25.7]),
    (24.4,[23.8,24.0,24.2,24.4,24.6,24.8,25.0,25.2,25.4,25.6,25.8]),
    (24.6,[23.7,23.9,24.1,24.3,24.5,24.7,24.9,25.1,25.3,25.5,25.7,25.9]),
    (24.8,[23.8,24.0,24.2,24.4,24.6,24.8,25.0,25.2,25.4,25.6,25.8,26.0]),
    (25.0,[23.9,24.1,24.3,24.5,24.7,24.9,25.1,25.3,25.5,25.7,25.9,26.1]),
    (25.2,[24.0,24.2,24.4,24.6,24.8,25.0,25.2,25.4,25.6,25.8,26.0,26.2]),
    (25.4,[24.1,24.3,24.5,24.7,24.9,25.1,25.3,25.5,25.7,25.9,26.1,26.3]),
    (25.6,[24.2,24.4,24.6,24.8,25.0,25.2,25.4,25.6,25.8,26.0,26.2,26.4]),
    (25.8,[24.3,24.5,24.7,24.9,25.1,25.3,25.5,25.7,25.9,26.1,26.3,26.5,26.7]),
    (26.0,[24.4,24.6,24.8,25.0,25.2,25.4,25.6,25.8,26.0,26.2,26.4,26.6,26.8]),
    (26.2,[24.5,24.7,24.9,25.1,25.3,25.5,25.7,25.9,26.1,26.3,26.5,26.7,26.9,27.1]),
    (26.4,[24.8,25.0,25.2,25.4,25.6,25.8,26.0,26.2,26.4,26.6,26.8,27.0,27.2]),
    (26.6,[25.1,25.3,25.5,25.7,25.9,26.1,26.3,26.5,26.7,26.9,27.1,27.3]),
    (26.8,[25.4,25.6,25.8,26.0,26.2,26.4,26.6,26.8,27.0,27.2,27.4,27.6]),
    (27.0,[25.7,25.9,26.1,26.3,26.5,26.7,26.9,27.1,27.3,27.5,27.7,27.9]),
    (27.2,[26.0,26.2,26.4,26.6,26.8,27.0,27.2,27.4,27.6,27.8,28.0]),
    (27.4,[26.3,26.5,26.7,26.9,27.1,27.3,27.5,27.7,27.9,28.1,28.3]),
    (27.6,[26.4,26.6,26.8,27.0,27.2,27.4,27.6,27.8,28.0,28.2,28.4,28.6]),
    (27.8,[26.7,26.9,27.1,27.3,27.5,27.7,27.9,28.1,28.3,28.5,28.7,28.9]),
    (28.0,[26.8,27.0,27.2,27.4,27.6,27.8,28.0,28.2,28.4,28.6,28.8,29.0]),
    (28.2,[27.1,27.3,27.5,27.7,27.9,28.1,28.3,28.5,28.7,28.9,29.1,29.3]),
    (28.4,[27.4,27.6,27.8,28.0,28.2,28.4,28.6,28.8,29.0,29.2,29.4]),
    (28.6,[27.7,27.9,28.1,28.3,28.5,28.7,28.9,29.1,29.3,29.5,29.7]),
    (28.8,[27.8,28.0,28.2,28.4,28.6,28.8,29.0,29.2,29.4,29.6,29.8]),
    (29.0,[28.1,28.3,28.5,28.7,28.9,29.1,29.3,29.5,29.7,29.9,30.1]),
    (29.2,[28.4,28.6,28.8,29.0,29.2,29.4,29.6,29.8,30.0,30.2]),
    (29.4,[28.7,28.9,29.1,29.3,29.5,29.7,29.9,30.1,30.3,30.5]),
    (29.6,[28.8,29.0,29.2,29.4,29.6,29.8,30.0,30.2,30.4,30.6]),
    (29.8,[29.1,29.3,29.5,29.7,29.9,30.1,30.3,30.5,30.7,30.9]),
    (30.0,[29.4,29.6,29.8,30.0,30.2,30.4,30.6,30.8,31.0]),
    (30.2,[29.7,29.9,30.1,30.3,30.5,30.7,30.9,31.1]),
    (30.4,[30.0,30.2,30.4,30.6,30.8,31.0,31.2]),
    (30.6,[30.1,30.3,30.5,30.7,30.9,31.1,31.3,31.5]),
    (30.8,[30.4,30.6,30.8,31.0,31.2,31.4,31.6]),
    (31.0,[30.7,30.9,31.1,31.3,31.5,31.7]),
    (31.2,[30.8,31.0,31.2,31.4,31.6,31.8,32.0]),
    # second, offset pass over the inner part
    (24.3,[24.05,24.35,24.65,24.95,25.25,25.55]),
    (24.7,[24.15,24.45,24.75,25.05,25.35,25.65]),
    (25.1,[24.25,24.55,24.85,25.15,25.45,25.75]),
    (25.5,[24.45,24.75,25.05,25.35,25.65,25.95]),
    (25.9,[24.75,25.05,25.35,25.65,25.95,26.25]),
    (26.3,[25.05,25.35,25.65,25.95,26.25,26.55]),
    (26.7,[25.65,25.95,26.25,26.55,26.85,27.15]),
    (27.1,[26.15,26.45,26.75,27.05,27.35,27.65]),
    (27.5,[26.65,26.95,27.25,27.55,27.85,28.15]),
    (27.9,[27.05,27.35,27.65,27.95,28.25,28.55]),
    (28.3,[27.55,27.85,28.15,28.45,28.75,29.05]),
    (28.7,[28.05,28.35,28.65,28.95,29.25,29.55]),
    (29.1,[28.55,28.85,29.15,29.45,29.75]),
    (29.5,[29.05,29.35,29.65,29.95,30.25]),
    (29.9,[29.55,29.85,30.15,30.45,30.75]),
]

alpha_xticks = [30, 40, 50]
alpha_yticks = [25, 30, 35, 40]
beta_xticks = [30, 40, 50]
beta_yticks = [30, 40, 50]
alpha_xlabel = "Pre\u2212stimulus alpha power (dB re: 1 uV)"
alpha_ylabel = "During\u2212stimulus alpha power (dB re: 1 uV)"
beta_xlabel = "Pre\u2212stimulus beta power (dB re: 1 uV)"
beta_ylabel = "During\u2212stimulus beta power (dB re: 1 uV)"


def rows_to_points(rows):
    return [(x, y) for y, xs in rows for x in xs]


def draw_panel(ax, points, xticks, yticks, xlabel, ylabel):
    pts = np.array(points)
    ax.scatter(pts[:, 0], pts[:, 1], s=159, facecolors="none", edgecolors="black", linewidths=1.65)
    ax.spines["top"].set_visible(False)
    ax.spines["right"].set_visible(False)
    ax.spines["left"].set_linewidth(3.1)
    ax.spines["bottom"].set_linewidth(3.1)
    ax.set_xticks(xticks)
    ax.set_yticks(yticks)
    ax.tick_params(length=9.4, width=2.9, color="#333333", labelcolor="#4D4D4D", labelsize=33, pad=7)
    ax.set_xlabel(xlabel, fontsize=40.5, va="center")
    ax.set_ylabel(ylabel, fontsize=40.8, va="center")
    ax.xaxis.set_label_coords(0.5, -0.103)
    ax.yaxis.set_label_coords(-0.111, 0.5)


fig = plt.figure(figsize=(26.36, 13.9), dpi=100)

ax_a = fig.add_axes([245 / 2636, 143 / 1390, 1073 / 2636, 1084 / 1390])
draw_panel(ax_a, alpha_sparse + alpha_mid + rows_to_points(alpha_core_rows),
           alpha_xticks, alpha_yticks, alpha_xlabel, alpha_ylabel)
ax_a.set_xlim(23.5, 52.8)
ax_a.set_ylim(23.53, 43.48)

# panel B runs off the right edge of the figure, like the original
ax_b = fig.add_axes([1621 / 2636, 143 / 1390, 1073 / 2636, 1084 / 1390])
draw_panel(ax_b, beta_sparse + beta_mid + rows_to_points(beta_core_rows),
           beta_xticks, beta_yticks, beta_xlabel, beta_ylabel)
ax_b.set_xlim(21.48, 50.96)
ax_b.set_ylim(21.59, 51.09)

fig.text(70 / 2636, 1 - 96 / 1390, "A", fontsize=58, family="Roboto", weight="black", va="baseline")
fig.text(1443 / 2636, 1 - 96 / 1390, "B", fontsize=58, family="Roboto", weight="black", va="baseline")

fig.savefig("out.png", dpi=100)
